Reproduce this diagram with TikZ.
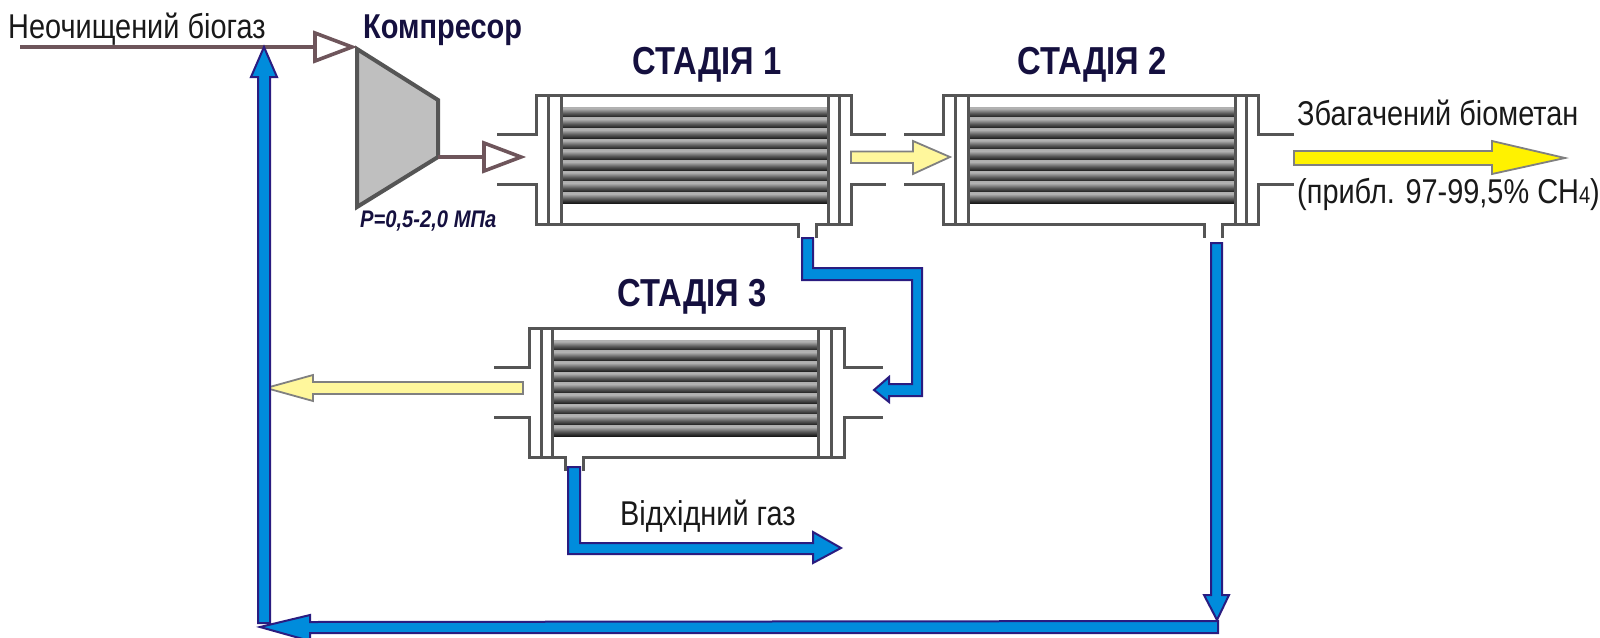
\documentclass[tikz,border=0pt]{standalone}
\usepackage{fontspec}
\setmainfont{Liberation Sans}
\newfontfamily\narrowfont[FakeStretch=0.84]{Liberation Sans}
\usetikzlibrary{calc}
\definecolor{wallgrey}{HTML}{555555}
\definecolor{feedbrown}{HTML}{6E555B}
\definecolor{flowblue}{HTML}{008CDC}
\definecolor{flownavy}{HTML}{2A1C80}
\definecolor{titlenavy}{HTML}{15103F}
\definecolor{paleyellow}{HTML}{FFF79C}
\definecolor{brightyellow}{HTML}{FFF200}
\pgfdeclareverticalshading{tubeshade}{100bp}{
  color(0bp)=(black!88);color(26bp)=(black!90);color(46bp)=(black!65);
  color(68bp)=(black!30);color(82bp)=(black!32);color(100bp)=(black!62)}
\tikzset{
  x=1pt,y=-1pt,
  wall/.style={draw=wallgrey,line width=3pt},
  feedline/.style={draw=feedbrown,line width=4pt},
  feedtip/.style={draw=feedbrown,fill=white,line width=3.6pt,miter limit=10},
  blockblue/.style={draw=flownavy,fill=flowblue,line width=2pt,line join=miter,miter limit=10},
  blockpale/.style={draw=black!50,fill=paleyellow,line width=1.8pt,miter limit=10},
  blockbright/.style={draw=black!50,fill=brightyellow,line width=1.8pt,miter limit=10},
  plaintext/.style={font=\narrowfont\fontsize{34.4}{34.4}\selectfont,text=black!90,inner sep=0pt,anchor=base west},
  stagetitle/.style={font=\narrowfont\bfseries\fontsize{39}{39}\selectfont,text=titlenavy,inner sep=0pt,anchor=base},
}
% #1 name, #2 left x, #3 top y, #4 outlet left x, #5 left stub, #6 right stub, #7 inner left, #8 inner right, #9 outer right
\newcommand{\membrane}[9]{
  \coordinate (#1) at (#2,#3);
  \foreach \k in {0,...,8}{
    \shade[shading=tubeshade] ($(#1)+(#7,12+\k*10.67)$) rectangle ($(#1)+(#8,12+\k*10.67+10.67)$);
  }
  \draw[wall] ($(#1)+(-#5,39)$) -- ($(#1)+(0,39)$) -- (#1) -- ($(#1)+(315,0)$) -- ($(#1)+(315,39)$) -- ($(#1)+(315+#6,39)$);
  \draw[wall] ($(#1)+(-#5,89)$) -- ($(#1)+(0,89)$) -- ($(#1)+(0,129)$) -- (#4,#3+129) -- (#4,#3+143);
  \draw[wall] (#4+18,#3+143) -- (#4+18,#3+129) -- ($(#1)+(315,129)$) -- ($(#1)+(315,89)$) -- ($(#1)+(315+#6,89)$);
  \foreach \d in {12,#7,#8,#9}{
    \draw[wall] ($(#1)+(\d,0)$) -- ($(#1)+(\d,129)$);
  }
}
\begin{document}
\begin{tikzpicture}
\useasboundingbox (0,0) rectangle (1600,637);

\membrane{stageone}{536}{95}{798}{39}{35}{25}{292}{303}
\membrane{stagetwo}{943}{95}{1204}{39}{36}{25}{292}{303}
\membrane{stagethree}{529}{328}{565}{35}{39}{23}{289}{302}

% compressor
\coordinate (comp) at (357,49);
\draw[wall,line width=4pt,fill=black!25,miter limit=10] (comp) -- ++(81,51) -- ++(0,57) -- ++(-81,50) -- cycle;
\coordinate (compout) at (438,157);
\coordinate (feedstart) at (20,47);

\draw[feedline] (feedstart) -- ++(295,0);
\draw[feedtip] ($(feedstart)+(295,-14)$) -- ++(37,14) -- ++(-37,14) -- cycle;
\draw[feedline] (compout) -- ++(46,0);
\draw[feedtip] ($(compout)+(46,-14)$) -- ++(37,14) -- ++(-37,14) -- cycle;

% yellow arrows
\coordinate (s1s2) at (851,157);
\draw[blockpale] ($(s1s2)+(0,-5.5)$) -- ++(62,0) -- ++(0,-10.5) -- ++(37,16) -- ++(-37,17) -- ++(0,-11) -- ++(-62,0) -- cycle;
\coordinate (product) at (1294,158);
\draw[blockbright] ($(product)+(0,-7)$) -- ++(198,0) -- ++(0,-10) -- ++(73,17) -- ++(-73,16) -- ++(0,-9) -- ++(-198,0) -- cycle;
\coordinate (s3ret) at (523,388);
\draw[blockpale] ($(s3ret)+(0,-6)$) -- ++(-210,0) -- ++(0,-7) -- ++(-47,13) -- ++(47,13) -- ++(0,-7) -- ++(210,0) -- cycle;

% blue arrows
\coordinate (s1perm) at (802,238);
\draw[blockblue] (s1perm) -- ++(11,0) -- ++(0,30) -- (922,268) -- (922,396) -- (889,396) -- (889,402) -- (874,390) -- (889,377) -- (889,384) -- (912,384) -- (912,280) -- (802,280) -- cycle;
\coordinate (s3perm) at (568,467);
\draw[blockblue] (s3perm) -- ++(12,0) -- ++(0,76) -- ++(233,0) -- ++(0,-11) -- ++(28,16) -- ++(-28,15) -- ++(0,-9) -- ++(-245,0) -- cycle;
\coordinate (retbottom) at (1217,243);
\draw[blockblue] ($(retbottom)+(-6,0)$) -- ++(11,0) -- ++(0,352) -- ++(7,0) -- ++(-12,25) -- ++(-13,-25) -- ++(7,0) -- cycle;
\draw[blockblue] (1218,621) -- (1218,633) -- (310,633) -- (310,641) -- (260,627) -- (310,615) -- (310,622) -- cycle;
\coordinate (recycle) at (264,47);
\draw[blockblue] ($(recycle)+(-6,30)$) -- ++(-7,0) -- (recycle) -- ($(recycle)+(13,30)$) -- ++(-7,0) -- (270,623) -- (258,623) -- cycle;

% labels
\node[plaintext] (lraw) at (8,38) {Неочищений біогаз};
\node[font=\narrowfont\bfseries\fontsize{34.5}{34.5}\selectfont,text=titlenavy,inner sep=0pt,anchor=base west] (lcomp) at (363,38) {Компресор};
\node[font=\narrowfont\bfseries\itshape\fontsize{24}{24}\selectfont,text=titlenavy,inner sep=0pt,anchor=base west] (lp) at (360,227) {P=0,5-2,0 МПа};
\node[stagetitle] (t1) at (707,74) {СТАДІЯ 1};
\node[stagetitle] (t2) at (1092,74) {СТАДІЯ 2};
\node[stagetitle] (t3) at (692,306) {СТАДІЯ 3};
\node[plaintext] (lprod) at (1297,125) {Збагачений біометан};
\node[plaintext] (lpur) at (1297,203) {(прибл. 97-99,5\% СН{\fontsize{24}{24}\selectfont 4})};
\node[plaintext] (lwaste) at (620,525) {Відхідний газ};
\end{tikzpicture}
\end{document}
